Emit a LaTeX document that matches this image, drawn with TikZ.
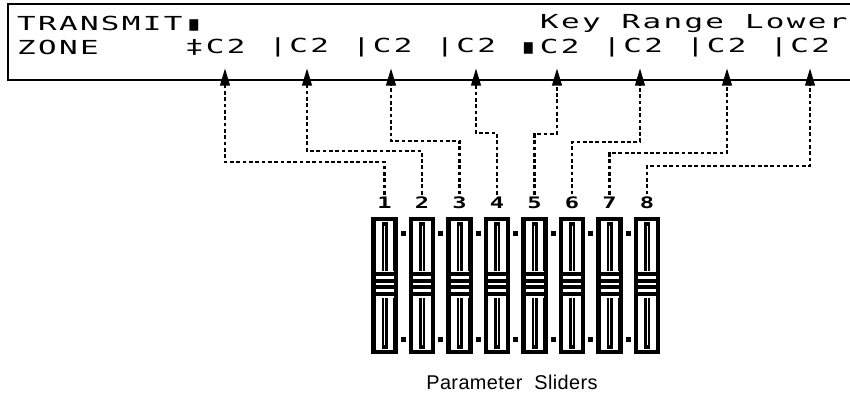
\documentclass[tikz,border=0pt]{standalone}
\usepackage{fontspec}
\usetikzlibrary{arrows.meta}
\newfontfamily\lcdfont[FakeStretch=1.6,LetterSpace=12]{DejaVu Sans Mono}
\newfontfamily\numfont[FakeStretch=1.5]{DejaVu Sans Mono}
\newfontfamily\capfont[LetterSpace=2]{Liberation Sans}

\begin{document}
\begin{tikzpicture}[
	  x=0.03cm, y=-0.03cm,
	  lcd/.style={font=\lcdfont\fontsize{16.5}{16.5}\selectfont, inner sep=0pt},
	  row/.style={lcd, anchor=west},
	  num/.style={font=\numfont\bfseries\fontsize{13.5}{13.5}\selectfont, inner sep=2pt},
	  sig/.style={-{Triangle[length=15pt, width=8pt]}, line width=2.4pt, dash pattern=on 3.2pt off 2.2pt},
	  frame/.style={line width=2pt},
	  caption/.style={font=\capfont\fontsize{17}{19}\selectfont}]
	  \clip (0,0) rectangle (850,399);
	  % display
	  \draw[frame] (870,4) -| (8,80) -- (870,80);
	  \node[row] (tx) at (17,24) {TRANSMIT▮};
	  \node[row] (key) at (540,24) {Key Range Lower};
	  \node[row] (zone) at (17,47) {ZONE};
	  \node[lcd] (f1) at (215.3,47) {‡C2};
	  \node[lcd] (f2) at (298.8,47) {|C2};
	  \node[lcd] (f3) at (382.3,47) {|C2};
	  \node[lcd] (f4) at (465.8,47) {|C2};
	  \node[lcd] (f5) at (549.3,47) {▮C2};
	  \node[lcd] (f6) at (632.8,47) {|C2};
	  \node[lcd] (f7) at (716.3,47) {|C2};
	  \node[lcd] (f8) at (799.8,47) {|C2};
	  \coordinate (a1) at (225,68);
	  \coordinate (a2) at (307,68);
	  \coordinate (a3) at (391,68);
	  \coordinate (a4) at (476,68);
	  \coordinate (a5) at (557,68);
	  \coordinate (a6) at (640,68);
	  \coordinate (a7) at (727,68);
	  \coordinate (a8) at (810,68);
	  % sliders
	  \foreach \c in {384.5,422,...,647} {
	    \draw[line width=3.6pt] (\c-11,219) rectangle (\c+11,352);
	    \fill (\c-3,222) rectangle (\c+3,349);
	    \draw[white, line width=0.7pt] (\c,226) -- (\c,345);
	    \fill[white] (\c-9,271) rectangle (\c+9,298);
	    \foreach \k in {274,281,287,294}
	      \draw[line width=2.8pt] (\c-10,\k) -- (\c+10,\k);
	  }
	  \foreach \c in {403.25,440.75,...,628.25} {
	    \fill (\c-2.5,230.5) rectangle (\c+2.5,235.5);
	    \fill (\c-2.5,336.5) rectangle (\c+2.5,341.5);
	  }
	  \node[num] (n1) at (384.5,203) {1};
	  \node[num] (n2) at (422,203) {2};
	  \node[num] (n3) at (459.5,203) {3};
	  \node[num] (n4) at (497,203) {4};
	  \node[num] (n5) at (534.5,203) {5};
	  \node[num] (n6) at (572,203) {6};
	  \node[num] (n7) at (609.5,203) {7};
	  \node[num] (n8) at (647,203) {8};
	  \draw[sig] (n1.north) |- (225,162) -- (a1);
	  \draw[sig] (n2.north) |- (307,151) -- (a2);
	  \draw[sig] (n3.north) |- (391,141) -- (a3);
	  \draw[sig] (n4.north) |- (476,133) -- (a4);
	  \draw[sig] (n5.north) |- (557,134) -- (a5);
	  \draw[sig] (n6.north) |- (640,142) -- (a6);
	  \draw[sig] (n7.north) |- (727,153) -- (a7);
	  \draw[sig] (n8.north) |- (810,166) -- (a8);
	  \node[caption] (cap) at (512,382) {Parameter~ Sliders};
	\end{tikzpicture}
\end{document}
